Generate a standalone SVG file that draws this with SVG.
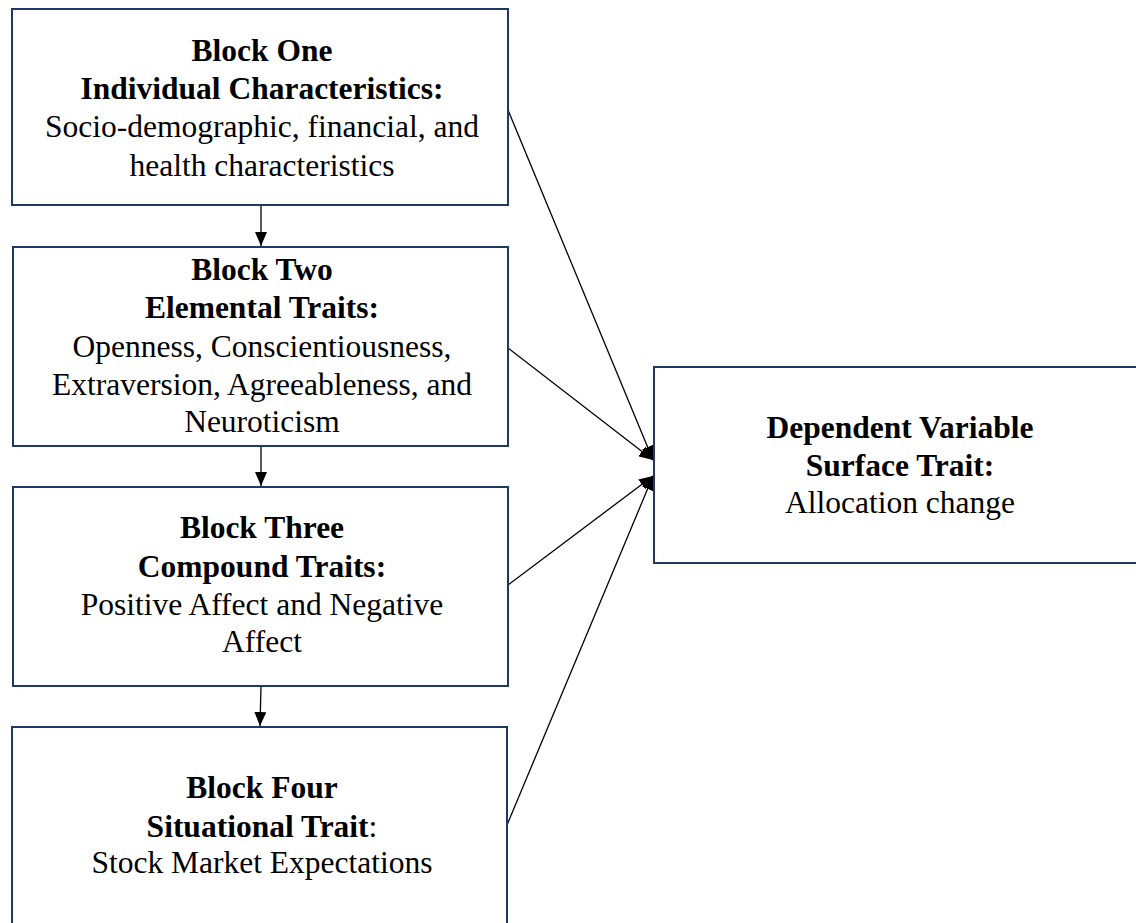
<svg xmlns="http://www.w3.org/2000/svg" width="1136" height="923" viewBox="0 0 1136 923">
  <style>
    .box { fill: #ffffff; stroke: #1f3864; stroke-width: 2; }
    .t { font-family: "Liberation Serif", "Times New Roman", serif; font-size: 31.5px; fill: #000000; text-anchor: middle; }
    .b { font-weight: bold; }
    .link { stroke: #000000; stroke-width: 1.3; fill: none; }
  </style>
  <defs>
    <marker id="arrow" viewBox="0 0 14 12" refX="14" refY="6" markerWidth="14" markerHeight="12" markerUnits="userSpaceOnUse" orient="auto">
      <path d="M0,0 L14,6 L0,12 Z" fill="#000000"/>
    </marker>
  </defs>

  <rect width="1136" height="923" fill="#ffffff"/>

  <!-- connectors -->
  <g id="connectors">
    <line class="link" x1="261" y1="205" x2="261" y2="246" marker-end="url(#arrow)"/>
    <line class="link" x1="261" y1="446" x2="261" y2="486" marker-end="url(#arrow)"/>
    <line class="link" x1="261" y1="686" x2="260" y2="726" marker-end="url(#arrow)"/>
    <line class="link" x1="508" y1="110" x2="653" y2="460" marker-end="url(#arrow)"/>
    <line class="link" x1="508" y1="348" x2="653" y2="460" marker-end="url(#arrow)"/>
    <line class="link" x1="508" y1="585" x2="653" y2="476" marker-end="url(#arrow)"/>
    <line class="link" x1="507" y1="825" x2="653" y2="476" marker-end="url(#arrow)"/>
  </g>

  <g id="block-one">
    <rect class="box" x="12" y="9" width="496" height="196"/>
    <text class="t b" x="262" y="61">Block One</text>
    <text class="t b" x="262" y="99">Individual Characteristics:</text>
    <text class="t" x="262" y="137">Socio-demographic, financial, and</text>
    <text class="t" x="262" y="176">health characteristics</text>
  </g>

  <g id="block-two">
    <rect class="box" x="13" y="247" width="495" height="199"/>
    <text class="t b" x="262" y="280">Block Two</text>
    <text class="t b" x="262" y="318">Elemental Traits:</text>
    <text class="t" x="262" y="357">Openness, Conscientiousness,</text>
    <text class="t" x="262" y="395">Extraversion, Agreeableness, and</text>
    <text class="t" x="262" y="432">Neuroticism</text>
  </g>

  <g id="block-three">
    <rect class="box" x="13" y="487" width="495" height="199"/>
    <text class="t b" x="262" y="538">Block Three</text>
    <text class="t b" x="262" y="577">Compound Traits:</text>
    <text class="t" x="262" y="615">Positive Affect and Negative</text>
    <text class="t" x="262" y="652">Affect</text>
  </g>

  <g id="block-four">
    <rect class="box" x="12" y="727" width="495" height="220"/>
    <text class="t b" x="262" y="798">Block Four</text>
    <text class="t" x="262" y="837"><tspan class="b">Situational Trait</tspan>:</text>
    <text class="t" x="262" y="873">Stock Market Expectations</text>
  </g>

  <g id="dependent-variable">
    <rect class="box" x="654" y="367" width="500" height="196"/>
    <text class="t b" x="900" y="438">Dependent Variable</text>
    <text class="t b" x="900" y="476">Surface Trait:</text>
    <text class="t" x="900" y="513">Allocation change</text>
  </g>
</svg>
